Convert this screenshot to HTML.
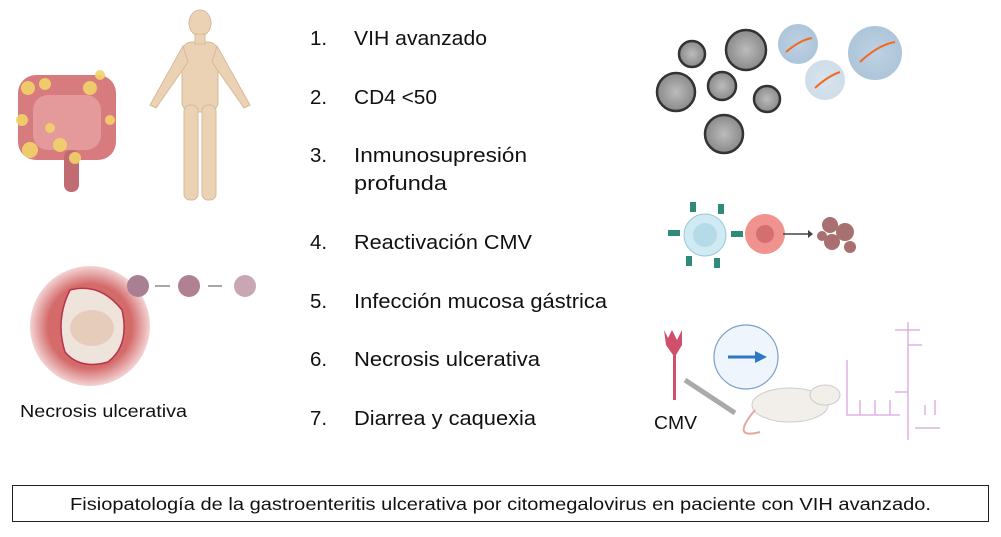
<!DOCTYPE html>
<html><head><meta charset="utf-8"><style>
body{margin:0;background:#fff;width:1001px;height:537px;overflow:hidden;font-family:"Liberation Sans",sans-serif}
svg{position:absolute;left:0;top:0}
text{font-family:"Liberation Sans",sans-serif;fill:#111}
</style></head><body>
<svg width="1001" height="537" viewBox="0 0 1001 537">
<defs>
<radialGradient id="rg" cx="50%" cy="50%" r="50%"><stop offset="70%" stop-color="#d46a6a"/><stop offset="100%" stop-color="#f3d4d4"/></radialGradient>
<radialGradient id="vg" cx="50%" cy="50%" r="50%"><stop offset="0%" stop-color="#bcbcbc"/><stop offset="100%" stop-color="#8a8a8a"/></radialGradient>
<radialGradient id="bg" cx="50%" cy="50%" r="50%"><stop offset="0%" stop-color="#b7cde0"/><stop offset="100%" stop-color="#a5bfd6"/></radialGradient>
</defs>
<!-- intestine -->
<g>
<rect x="18" y="75" width="98" height="85" rx="18" fill="#d77b7e"/>
<rect x="33" y="95" width="68" height="55" rx="15" fill="#e4999a"/>
<rect x="64" y="150" width="15" height="42" rx="7" fill="#c06c72"/>
<g fill="#f1d36a" opacity="0.9">
<circle cx="28" cy="88" r="7"/><circle cx="45" cy="84" r="6"/><circle cx="90" cy="88" r="7"/><circle cx="22" cy="120" r="6"/><circle cx="30" cy="150" r="8"/><circle cx="60" cy="145" r="7"/><circle cx="75" cy="158" r="6"/><circle cx="110" cy="120" r="5"/><circle cx="100" cy="75" r="5"/><circle cx="50" cy="128" r="5"/>
</g></g>
<!-- human -->
<g fill="#ecd2b4" stroke="#d7b999" stroke-width="1">
<ellipse cx="200" cy="23" rx="11" ry="13"/>
<rect x="182" y="42" width="36" height="70" rx="10"/>
<path d="M183 46 L150 105 L156 108 L188 62Z"/>
<path d="M217 46 L250 105 L244 108 L212 62Z"/>
<rect x="184" y="105" width="14" height="95" rx="6"/>
<rect x="202" y="105" width="14" height="95" rx="6"/>
<rect x="195" y="34" width="10" height="10"/>
</g>
<!-- necrosis -->
<circle cx="90" cy="326" r="60" fill="url(#rg)"/>
<path d="M70 290 Q100 282 122 310 Q130 345 108 362 Q80 370 65 352 Q55 320 70 290Z" fill="#efe4dc" stroke="#b8334a" stroke-width="1.5"/>
<ellipse cx="92" cy="328" rx="22" ry="18" fill="#e6cdbb"/>
<circle cx="138" cy="286" r="11" fill="#a97f94"/><circle cx="189" cy="286" r="11" fill="#b08093"/><circle cx="245" cy="286" r="11" fill="#c9a6b4"/>
<g stroke="#777" stroke-width="1.3"><line x1="155" y1="286" x2="170" y2="286"/><line x1="208" y1="286" x2="222" y2="286"/></g>
<text x="20" y="417" font-size="17.5" textLength="167" lengthAdjust="spacingAndGlyphs">Necrosis ulcerativa</text>
<!-- list -->
<g font-size="20.5">
<text x="310" y="45">1.</text><text x="354" y="45" textLength="133" lengthAdjust="spacingAndGlyphs">VIH avanzado</text>
<text x="310" y="104">2.</text><text x="354" y="104" textLength="83" lengthAdjust="spacingAndGlyphs">CD4 &lt;50</text>
<text x="310" y="162">3.</text><text x="354" y="162" textLength="173" lengthAdjust="spacingAndGlyphs">Inmunosupresión</text><text x="354" y="190" textLength="93" lengthAdjust="spacingAndGlyphs">profunda</text>
<text x="310" y="249">4.</text><text x="354" y="249" textLength="178" lengthAdjust="spacingAndGlyphs">Reactivación CMV</text>
<text x="310" y="308">5.</text><text x="354" y="308" textLength="253" lengthAdjust="spacingAndGlyphs">Infección mucosa gástrica</text>
<text x="310" y="366">6.</text><text x="354" y="366" textLength="186" lengthAdjust="spacingAndGlyphs">Necrosis ulcerativa</text>
<text x="310" y="425">7.</text><text x="354" y="425" textLength="182" lengthAdjust="spacingAndGlyphs">Diarrea y caquexia</text>
</g>
<!-- viruses -->
<g fill="url(#vg)" stroke="#333" stroke-width="2.5">
<circle cx="692" cy="54" r="13"/><circle cx="746" cy="50" r="20"/><circle cx="676" cy="92" r="19"/><circle cx="722" cy="86" r="14"/><circle cx="767" cy="99" r="13"/><circle cx="724" cy="134" r="19"/>
</g>
<g fill="url(#bg)" opacity="0.9"><circle cx="798" cy="44" r="20"/><circle cx="875" cy="53" r="27"/><circle cx="825" cy="80" r="20" opacity="0.6"/></g>
<g stroke="#f26a21" stroke-width="2" fill="none"><path d="M786 52 Q800 40 812 38"/><path d="M860 62 Q878 45 895 42"/><path d="M815 88 Q828 76 840 72"/></g>
<!-- immune -->
<circle cx="705" cy="235" r="21" fill="#cfeaf2" stroke="#9bc8d6"/>
<circle cx="705" cy="235" r="12" fill="#b5dbe8"/>
<g fill="#2e8b7a"><rect x="668" y="230" width="12" height="6"/><rect x="731" y="231" width="12" height="6"/><rect x="690" y="202" width="6" height="10"/><rect x="718" y="204" width="6" height="10"/><rect x="686" y="256" width="6" height="10"/><rect x="714" y="258" width="6" height="10"/></g>
<circle cx="765" cy="234" r="20" fill="#f0938f"/><circle cx="765" cy="234" r="9" fill="#d46f70"/>
<line x1="783" y1="234" x2="808" y2="234" stroke="#444" stroke-width="1.5"/><path d="M808 230 L813 234 L808 238Z" fill="#444"/>
<g fill="#a87070"><circle cx="830" cy="225" r="8"/><circle cx="845" cy="232" r="9"/><circle cx="832" cy="242" r="8"/><circle cx="850" cy="247" r="6"/><circle cx="822" cy="236" r="5"/></g>
<!-- CMV mouse -->
<path d="M664 330 L668 338 L672 330 L677 340 L682 330 L682 345 L676 355 L676 400 L673 400 L673 355 L666 345Z" fill="#d0506c"/>
<text x="654" y="429" font-size="18" textLength="43" lengthAdjust="spacingAndGlyphs">CMV</text>
<circle cx="746" cy="357" r="32" fill="#eef5fd" stroke="#7a9fc8" stroke-width="1.2"/>
<line x1="728" y1="357" x2="757" y2="357" stroke="#2d78c4" stroke-width="3"/><path d="M755 351 L767 357 L755 363Z" fill="#2d78c4"/>
<line x1="685" y1="380" x2="735" y2="413" stroke="#aaa" stroke-width="5"/>
<ellipse cx="790" cy="405" rx="38" ry="17" fill="#f2eeea" stroke="#ccc"/>
<ellipse cx="825" cy="395" rx="15" ry="10" fill="#f2eeea" stroke="#ccc"/>
<path d="M755 410 Q730 440 760 432" stroke="#e3a7a4" stroke-width="2" fill="none"/>
<g stroke="#dba5df" stroke-width="1.3" fill="none">
<path d="M847 360 L847 415 L900 415 M908 322 L908 440 M895 330 L920 330 M908 345 L922 345 M895 392 L908 392 M915 428 L940 428 M860 400 L860 415 M875 400 L875 415 M890 400 L890 415 M925 405 L925 415 M935 400 L935 415"/>
</g>
<!-- caption box -->
<rect x="12.5" y="485.5" width="976" height="36" fill="#fff" stroke="#222" stroke-width="1"/>
<text x="70" y="510" font-size="17.5" textLength="861" lengthAdjust="spacingAndGlyphs">Fisiopatología de la gastroenteritis ulcerativa por citomegalovirus en paciente con VIH avanzado.</text>
</svg>
</body></html>
